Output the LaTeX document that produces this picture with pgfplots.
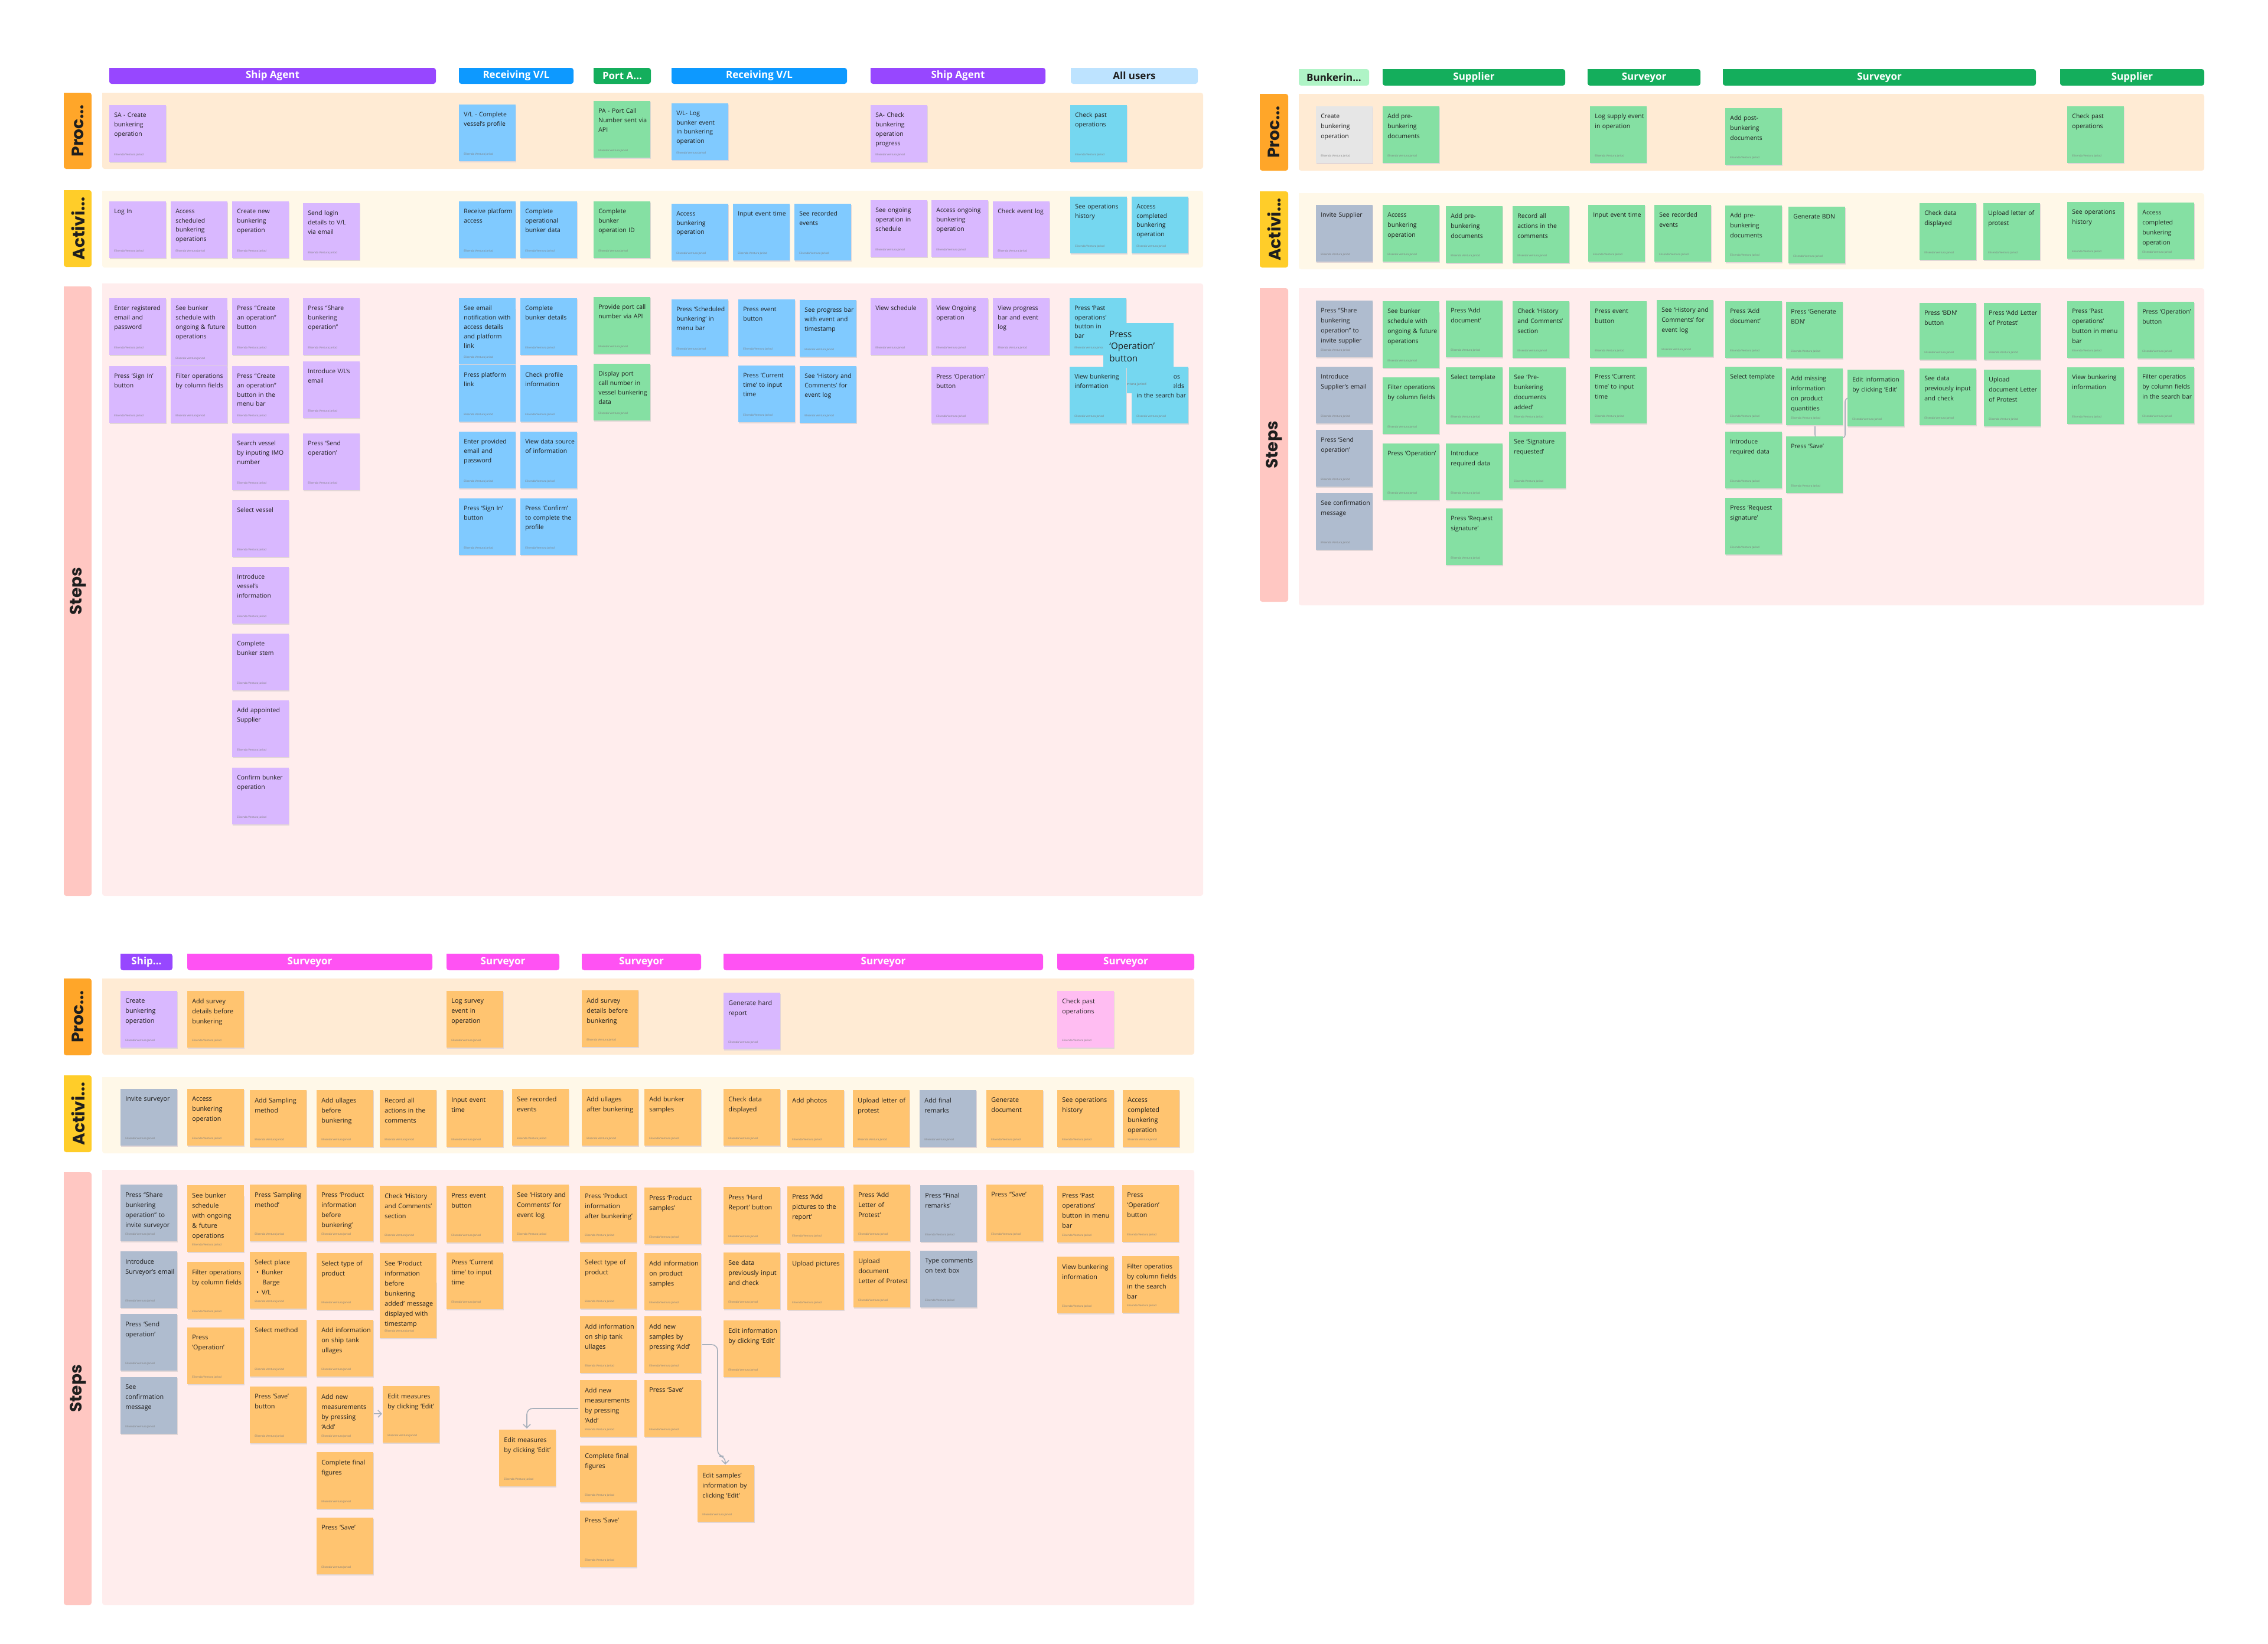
\documentclass[border=0pt]{standalone}
\usepackage{fontspec}
\setmainfont{Open Sans}
\newfontfamily\tabfont{Poppins}
\usepackage{pgfplots}
\usepackage{pgfplotstable}
\pgfplotsset{compat=1.18}
\usetikzlibrary{arrows.meta}
\hyphenpenalty=10000

\definecolor{hPurple}{HTML}{9747FF}
\definecolor{hBlue}{HTML}{0D99FF}
\definecolor{hGreen}{HTML}{14AE5C}
\definecolor{hMagenta}{HTML}{FF52F3}
\definecolor{hLBlue}{HTML}{BDE3FF}
\definecolor{hLGreen}{HTML}{AFF4C6}
\definecolor{tProc}{HTML}{FFA629}
\definecolor{tAct}{HTML}{FFCD29}
\definecolor{tSteps}{HTML}{FFC7C2}
\definecolor{bProc}{HTML}{FFEBD4}
\definecolor{bAct}{HTML}{FFF8E8}
\definecolor{bSteps}{HTML}{FFEDED}
\definecolor{sPurple}{HTML}{D9B8FF}
\definecolor{sBlue}{HTML}{80CAFF}
\definecolor{sGreen}{HTML}{85E0A3}
\definecolor{sCyan}{HTML}{75D7F0}
\definecolor{sSlate}{HTML}{AFBCCF}
\definecolor{sGrey}{HTML}{E6E6E6}
\definecolor{sOrange}{HTML}{FFC470}
\definecolor{sPink}{HTML}{FFBDF2}
\definecolor{txt}{HTML}{1E1E1E}
\definecolor{sig}{HTML}{7A7A7A}
\definecolor{conn}{HTML}{A9B1BC}
\definecolor{shadow}{HTML}{E2D6D6}

\newcommand\fTL{\fontsize{5.2}{7.9}\selectfont}
\newcommand\fR{\fontsize{5.2}{8.5}\selectfont}
\newcommand\fB{\fontsize{5.4}{8.5}\selectfont}
\newcommand\fOver{\fontsize{7.6}{10.2}\selectfont}
\newcommand\sigfont{\fontsize{2.3}{2.3}\selectfont}
\newcommand\sigfontO{\fontsize{2.9}{2.9}\selectfont}
\newcommand\hfont{\bfseries\fontsize{8.5}{8.5}\selectfont}
\newcommand\tfont{\tabfont\bfseries\fontsize{14}{14}\selectfont}
\protected\def\selectplace{Select place\\\hspace*{0.25em}\textbullet\hspace{0.45em}Bunker\\\hspace*{1.2em}Barge\\\hspace*{0.25em}\textbullet\hspace{0.45em}V/L}

% ---------- sticky note data: top-left corner (px), height (px), text ----------
\pgfplotstableread[col sep=semicolon]{
x;y;h;label
185;178;95;SA - Create bunkering operation
185;341;95;Log In
289;341;95;Access scheduled bunkering operations
393;341;95;Create new bunkering operation
513;344;95;Send login details to V/L via email
185;505;95;Enter registered email and password
185;620;95;Press ‘Sign In’ button
289;505;113;See bunker schedule with ongoing \& future operations
289;620;95;Filter operations by column fields
393;505;95;Press “Create an operation” button
393;620;95;Press “Create an operation” button in the menu bar
393;734;95;Search vessel by inputing IMO number
393;847;95;Select vessel
393;960;95;Introduce vessel’s information
393;1073;95;Complete bunker stem
393;1186;95;Add appointed Supplier
393;1300;95;Confirm bunker operation
513;505;95;Press “Share bunkering operation”
513;612;95;Introduce V/L’s email
513;734;95;Press ‘Send operation’
1474;178;95;SA- Check bunkering operation progress
1474;339;95;See ongoing operation in schedule
1577;339;95;Access ongoing bunkering operation
1681;341;95;Check event log
1474;505;95;View schedule
1577;505;95;View Ongoing operation
1577;621;95;Press ‘Operation’ button
1681;505;95;View progress bar and event log
}\tPurpleA

\pgfplotstableread[col sep=semicolon]{
x;y;h;label
777;177;95;V/L - Complete vessel’s profile
777;341;95;Receive platform access
881;341;95;Complete operational bunker data
777;505;111;See email notification with access details and platform link
777;618;95;Press platform link
777;731;95;Enter provided email and password
777;844;95;Press ‘Sign In’ button
881;505;95;Complete bunker details
881;618;95;Check profile information
881;731;95;View data source of information
881;844;95;Press ‘Confirm’ to complete the profile
1137;175;95;V/L- Log bunker event in bunkering operation
1137;345;95;Access bunkering operation
1241;345;95;Input event time
1345;345;95;See recorded events
1137;507;95;Press ‘Scheduled bunkering’ in menu bar
1250;507;95;Press event button
1250;619;95;Press ‘Current time’ to input time
1354;508;95;See progress bar with event and timestamp
1354;620;95;See ‘History and Comments’ for event log
}\tBlueA

\pgfplotstableread[col sep=semicolon]{
x;y;h;label
1005;171;95;PA - Port Call Number sent via API
1005;341;95;Complete bunker operation ID
1005;503;95;Provide port call number via API
1005;616;95;Display port call number in vessel bunkering data
}\tGreenA

\pgfplotstableread[col sep=semicolon]{
x;y;h;label
1812;178;95;Check past operations
1812;333;95;See operations history
1916;333;95;Access completed bunkering operation
1811;505;95;Press ‘Past operations’ button in menu bar
1916;621;95;Filter operatios by column fields in the search bar
}\tCyanA

\pgfplotstableread[col sep=semicolon]{
x;y;h;label
1868;547;118;Press ‘Operation’ button
}\tCyanOver

\pgfplotstableread[col sep=semicolon]{
x;y;h;label
1811;621;95;View bunkering information
}\tCyanTop

\pgfplotstableread[col sep=semicolon]{
x;y;h;label
2228;180;95;Create bunkering operation
}\tGreyR

\pgfplotstableread[col sep=semicolon]{
x;y;h;label
2228;347;95;Invite Supplier
2228;509;95;Press “Share bunkering operation” to invite supplier
2228;621;95;Introduce Supplier’s email
2228;728;95;Press ‘Send operation’
2228;835;95;See confirmation message
}\tSlateR

\pgfplotstableread[col sep=semicolon]{
x;y;h;label
2341;180;95;Add pre-bunkering documents
2692;180;95;Log supply event in operation
2921;183;95;Add post-bunkering documents
3500;180;95;Check past operations
2341;347;95;Access bunkering operation
2448;349;95;Add pre-bunkering documents
2561;349;95;Record all actions in the comments
2689;347;95;Input event time
2801;347;95;See recorded events
2921;348;95;Add pre-bunkering documents
3028;350;95;Generate BDN
3250;344;95;Check data displayed
3358;344;95;Upload letter of protest
3500;342;95;See operations history
3619;343;95;Access completed bunkering operation
2341;510;112;See bunker schedule with ongoing \& future operations
2341;639;95;Filter operations by column fields
2341;751;95;Press ‘Operation’
2448;509;95;Press ‘Add document’
2448;622;95;Select template
2448;751;95;Introduce required data
2448;861;95;Press ‘Request signature’
2561;510;95;Check ‘History and Comments’ section
2555;622;95;See ‘Pre-bunkering documents added’
2555;731;95;See ‘Signature requested’
2692;510;95;Press event button
2692;621;95;Press ‘Current time’ to input time
2805;508;95;See ‘History and Comments’ for event log
2921;510;95;Press ‘Add document’
2921;621;95;Select template
2921;731;95;Introduce required data
2921;843;95;Press ‘Request signature’
3024;511;95;Press ‘Generate BDN’
3024;624;95;Add missing information on product quantities
3024;739;95;Press ‘Save’
3128;626;95;Edit information by clicking ‘Edit’
3250;513;95;Press ‘BDN’ button
3250;624;95;See data previously input and check
3359;513;95;Press ‘Add Letter of Protest’
3359;626;95;Upload document Letter of Protest
3500;510;95;Press ‘Past operations’ button in menu bar
3500;622;95;View bunkering information
3619;511;95;Press ‘Operation’ button
3619;621;95;Filter operatios by column fields in the search bar
}\tGreenR

\pgfplotstableread[col sep=semicolon]{
x;y;h;label
204;1678;95;Create bunkering operation
1225;1681;95;Generate hard report
}\tPurpleB

\pgfplotstableread[col sep=semicolon]{
x;y;h;label
1790;1678;95;Check past operations
}\tPinkB

\pgfplotstableread[col sep=semicolon]{
x;y;h;label
204;1844;95;Invite surveyor
204;2006;95;Press “Share bunkering operation” to invite surveyor
204;2119;95;Introduce Surveyor’s email
204;2225;95;Press ‘Send operation’
204;2332;95;See confirmation message
1557;1846;95;Add final remarks
1558;2007;95;Press “Final remarks’
1558;2118;95;Type comments on text box
}\tSlateB

\pgfplotstableread[col sep=semicolon]{
x;y;h;label
317;1678;95;Add survey details before bunkering
756;1678;95;Log survey event in operation
985;1677;95;Add survey details before bunkering
317;1844;95;Access bunkering operation
423;1846;95;Add Sampling method
536;1846;95;Add ullages before bunkering
643;1846;95;Record all actions in the comments
756;1846;95;Input event time
867;1844;95;See recorded events
985;1844;95;Add ullages after bunkering
1091;1844;95;Add bunker samples
1225;1844;95;Check data displayed
1333;1846;95;Add photos
1444;1846;95;Upload letter of protest
1670;1846;95;Generate document
1790;1846;95;See operations history
1901;1846;95;Access completed bunkering operation
317;2007;112;See bunker schedule with ongoing \& future operations
317;2137;95;Filter operations by column fields
317;2248;95;Press ‘Operation’
423;2006;95;Press ‘Sampling method’
423;2120;95;\selectplace
423;2235;95;Select method
423;2348;95;Press ‘Save’ button
536;2006;95;Press ‘Product information before bunkering’
536;2122;95;Select type of product
536;2235;95;Add information on ship tank ullages
536;2348;95;Add new measurements by pressing ‘Add’
536;2459;95;Complete final figures
536;2570;95;Press ‘Save’
643;2008;95;Check ‘History and Comments’ section
643;2122;143;See ‘Product information before bunkering added’ message displayed with timestamp
648;2347;95;Edit measures by clicking ‘Edit’
756;2008;95;Press event button
756;2121;95;Press ‘Current time’ to input time
867;2006;95;See ‘History and Comments’ for event log
982;2008;95;Press ‘Product information after bunkering’
982;2120;95;Select type of product
982;2229;95;Add information on ship tank ullages
982;2337;95;Add new measurements by pressing ‘Add’
982;2448;95;Complete final figures
982;2558;95;Press ‘Save’
1091;2011;95;Press ‘Product samples’
1091;2122;95;Add information on product samples
1091;2229;95;Add new samples by pressing ‘Add’
1091;2337;95;Press ‘Save’
845;2421;95;Edit measures by clicking ‘Edit’
1225;2010;95;Press ‘Hard Report’ button
1225;2121;95;See data previously input and check
1225;2236;95;Edit information by clicking ‘Edit’
1181;2481;95;Edit samples’ information by clicking ‘Edit’
1333;2009;95;Press ‘Add pictures to the report’
1333;2122;95;Upload pictures
1445;2006;95;Press ‘Add Letter of Protest’
1445;2118;95;Upload document Letter of Protest
1670;2006;95;Press “Save’
1790;2008;95;Press ‘Past operations’ button in menu bar
1790;2128;95;View bunkering information
1900;2007;95;Press ‘Operation’ button
1900;2127;95;Filter operatios by column fields in the search bar
}\tOrangeB

% ---------- helpers ----------
\newcommand\rectfill[5]{\addplot[fill=#1, draw=none, rounded corners=2pt, forget plot] coordinates {(#2,#3) (#4,#3) (#4,#5) (#2,#5) (#2,#3)};}
\newcommand\stickyset[4]{%
 \addplot[only marks, mark=square*, mark size=23.75pt, mark options={fill=shadow, draw=shadow}, forget plot]
   table[x expr=\thisrow{x}+48.5, y expr=\thisrow{y}+\thisrow{h}-45] {#1};
 \addplot[only marks, mark=square*, mark size=23.75pt, mark options={fill=#2, draw=#2}, forget plot]
   table[x expr=\thisrow{x}+47.5, y expr=\thisrow{y}+\thisrow{h}-47.5] {#1};
 \addplot[only marks, mark=square*, mark size=23.75pt, mark options={fill=#2, draw=#2}, forget plot,
   point meta=explicit symbolic, nodes near coords={\pgfplotspointmeta},
   every node near coord/.append style={anchor=north west, xshift=-19.75pt, yshift=17.5pt,
     text width=#4, align=left, inner sep=0pt, font=#3, text=txt}]
   table[x expr=\thisrow{x}+47.5, y expr=\thisrow{y}+47.5, meta=label] {#1};
 \addplot[draw=none, mark=none, forget plot, nodes near coords={Elisenda Ventura Jariod},
   every node near coord/.append style={anchor=south west, xshift=-19.75pt, yshift=-19.5pt,
     inner sep=0pt, font=\sigfont, text=sig}]
   table[x expr=\thisrow{x}+47.5, y expr=\thisrow{y}+\thisrow{h}-47.5] {#1};
}

\begin{document}
\begin{tikzpicture}
\begin{axis}[x=0.5pt, y=0.5pt, xmin=0, xmax=3840, ymin=0, ymax=2784, y dir=reverse,
  hide axis, clip=false, scale only axis]

\addplot[fill=white, draw=none, forget plot] coordinates {(0,0) (3840,0) (3840,2784) (0,2784) (0,0)};

% ===== bands and tabs =====
\rectfill{tProc}{108}{157}{155}{286}
\rectfill{bProc}{173}{157}{2037}{286}
\rectfill{tAct}{108}{322}{155}{452}
\rectfill{bAct}{173}{323}{2037}{453}
\rectfill{tSteps}{108}{485}{155}{1517}
\rectfill{bSteps}{173}{480}{2037}{1517}
\rectfill{tProc}{2133}{159}{2181}{289}
\rectfill{bProc}{2199}{159}{3732}{289}
\rectfill{tAct}{2133}{324}{2181}{453}
\rectfill{bAct}{2199}{327}{3732}{456}
\rectfill{tSteps}{2133}{488}{2181}{1019}
\rectfill{bSteps}{2199}{488}{3732}{1025}
\rectfill{tProc}{108}{1657}{155}{1787}
\rectfill{bProc}{173}{1657}{2022}{1786}
\rectfill{tAct}{108}{1821}{155}{1951}
\rectfill{bAct}{173}{1824}{2022}{1953}
\rectfill{tSteps}{108}{1985}{155}{2718}
\rectfill{bSteps}{173}{1981}{2022}{2718}

% ===== headers =====
\rectfill{hPurple}{185}{115}{738}{142}
\rectfill{hBlue}{777}{115}{971}{142}
\rectfill{hGreen}{1005}{115}{1102}{142}
\rectfill{hBlue}{1137}{115}{1434}{142}
\rectfill{hPurple}{1474}{115}{1770}{142}
\rectfill{hLBlue}{1813}{115}{2028}{142}
\rectfill{hLGreen}{2199}{117}{2318}{145}
\rectfill{hGreen}{2341}{117}{2650}{145}
\rectfill{hGreen}{2688}{117}{2879}{145}
\rectfill{hGreen}{2917}{117}{3447}{145}
\rectfill{hGreen}{3488}{117}{3732}{145}
\rectfill{hPurple}{204}{1615}{292}{1643}
\rectfill{hMagenta}{317}{1615}{732}{1643}
\rectfill{hMagenta}{756}{1615}{947}{1643}
\rectfill{hMagenta}{985}{1615}{1187}{1643}
\rectfill{hMagenta}{1225}{1615}{1766}{1643}
\rectfill{hMagenta}{1790}{1615}{2022}{1643}

\node[font=\hfont, text=white] at (axis cs:461.5,128.5) {Ship Agent};
\node[font=\hfont, text=white] at (axis cs:874,128.5) {Receiving V/L};
\node[font=\hfont, text=white] at (axis cs:1053.5,128.5) {Port A...};
\node[font=\hfont, text=white] at (axis cs:1285.5,128.5) {Receiving V/L};
\node[font=\hfont, text=white] at (axis cs:1622,128.5) {Ship Agent};
\node[font=\hfont, text=txt] at (axis cs:1920.5,128.5) {All users};
\node[font=\hfont, text=txt] at (axis cs:2258.5,131) {Bunkerin...};
\node[font=\hfont, text=white] at (axis cs:2495.5,131) {Supplier};
\node[font=\hfont, text=white] at (axis cs:2783.5,131) {Surveyor};
\node[font=\hfont, text=white] at (axis cs:3182,131) {Surveyor};
\node[font=\hfont, text=white] at (axis cs:3610,131) {Supplier};
\node[font=\hfont, text=white] at (axis cs:248,1629) {Ship...};
\node[font=\hfont, text=white] at (axis cs:524.5,1629) {Surveyor};
\node[font=\hfont, text=white] at (axis cs:851.5,1629) {Surveyor};
\node[font=\hfont, text=white] at (axis cs:1086,1629) {Surveyor};
\node[font=\hfont, text=white] at (axis cs:1495.5,1629) {Surveyor};
\node[font=\hfont, text=white] at (axis cs:1906,1629) {Surveyor};

\node[font=\tfont, text=txt, rotate=90] at (axis cs:132,221.5) {Proc...};
\node[font=\tfont, text=txt, rotate=90] at (axis cs:132,387) {Activi...};
\node[font=\tfont, text=txt, rotate=90] at (axis cs:132,1001) {Steps};
\node[font=\tfont, text=txt, rotate=90] at (axis cs:2157,224) {Proc...};
\node[font=\tfont, text=txt, rotate=90] at (axis cs:2157,388.5) {Activi...};
\node[font=\tfont, text=txt, rotate=90] at (axis cs:2157,753.5) {Steps};
\node[font=\tfont, text=txt, rotate=90] at (axis cs:132,1722) {Proc...};
\node[font=\tfont, text=txt, rotate=90] at (axis cs:132,1886) {Activi...};
\node[font=\tfont, text=txt, rotate=90] at (axis cs:132,2351.5) {Steps};

% ===== connectors =====
\addplot[conn, line width=0.8pt, rounded corners=3pt, -{Straight Barb[length=3pt,width=6pt]}, forget plot]
  coordinates {(3073,718) (3073,742) (3124,742) (3124,674) (3129,674)};
\addplot[conn, line width=0.8pt, -{Straight Barb[length=3pt,width=6pt]}, forget plot]
  coordinates {(632,2394) (647,2394)};
\addplot[conn, line width=0.8pt, rounded corners=5pt, -{Straight Barb[length=3pt,width=6pt]}, forget plot]
  coordinates {(979,2385) (892,2385) (892,2419)};
\addplot[conn, line width=0.8pt, rounded corners=5pt, -{Straight Barb[length=3pt,width=6pt]}, forget plot]
  coordinates {(1189,2277) (1215,2277) (1215,2466) (1228,2466) (1228,2480)};

% ===== sticky notes =====
\stickyset{\tPurpleA}{sPurple}{\fTL}{42pt}
\stickyset{\tBlueA}{sBlue}{\fTL}{42pt}
\stickyset{\tGreenA}{sGreen}{\fTL}{42pt}
\stickyset{\tCyanA}{sCyan}{\fTL}{42pt}
\addplot[only marks, mark=square*, mark size=29.5pt, mark options={fill=sCyan, draw=sCyan}, forget plot,
   point meta=explicit symbolic, nodes near coords={\pgfplotspointmeta},
   every node near coord/.append style={anchor=north west, xshift=-24.5pt, yshift=23pt,
     text width=52pt, align=left, inner sep=0pt, font=\fOver, text=txt}]
   table[x expr=\thisrow{x}+59, y expr=\thisrow{y}+59, meta=label] {\tCyanOver};
\addplot[draw=none, mark=none, forget plot, nodes near coords={Elisenda Ventura Jariod},
   every node near coord/.append style={anchor=south west, xshift=-24.5pt, yshift=-24pt,
     inner sep=0pt, font=\sigfontO, text=sig}]
   table[x expr=\thisrow{x}+59, y expr=\thisrow{y}+59] {\tCyanOver};
\stickyset{\tCyanTop}{sCyan}{\fTL}{42pt}

\stickyset{\tGreyR}{sGrey}{\fR}{42pt}
\stickyset{\tSlateR}{sSlate}{\fR}{42pt}
\stickyset{\tGreenR}{sGreen}{\fR}{42pt}

\stickyset{\tPurpleB}{sPurple}{\fB}{42pt}
\stickyset{\tPinkB}{sPink}{\fB}{42pt}
\stickyset{\tSlateB}{sSlate}{\fB}{42pt}
\stickyset{\tOrangeB}{sOrange}{\fB}{42pt}

\end{axis}
\end{tikzpicture}
\end{document}
